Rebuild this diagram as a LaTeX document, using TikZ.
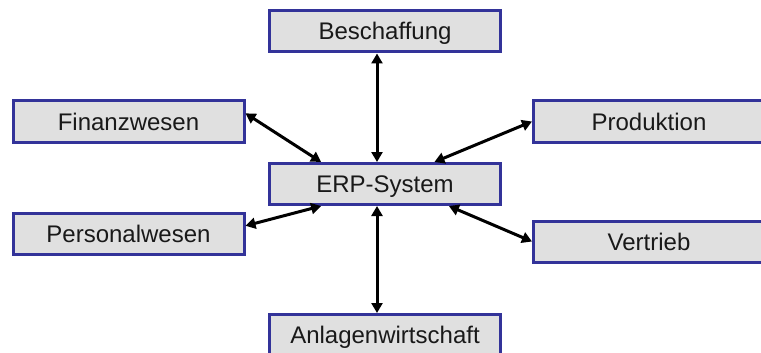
\documentclass[tikz,border=0pt]{standalone}
\usepackage{fontspec}
\setmainfont{Liberation Sans}
\usetikzlibrary{arrows.meta}
\definecolor{boxblue}{RGB}{51,51,153}
\definecolor{boxgray}{RGB}{224,224,224}

\begin{document}
\begin{tikzpicture}[x=1pt,y=-1pt,
  modul/.style={draw=boxblue,fill=boxgray,line width=3pt,minimum width=231pt,
    minimum height=41pt,inner sep=0pt,text height=17pt,text depth=0pt,
    font=\fontsize{24}{28}\selectfont,text=black!90},
  link/.style={{Triangle[length=10pt,width=11pt]}-{Triangle[length=10pt,width=11pt]},line width=3pt}]
  \useasboundingbox (0,0) rectangle (761,353);
  \clip (0,0) rectangle (761,353);
  \node[modul] (besch) at (385,31.5) {Beschaffung};
  \node[modul] (fin) at (128.5,121.5) {Finanzwesen};
  \node[modul] (prod) at (649,121.5) {Produktion};
  \node[modul] (erp) at (385,184) {ERP-System};
  \node[modul] (pers) at (128.5,234) {Personalwesen};
  \node[modul] (vert) at (649,241.5) {Vertrieb};
  \node[modul] (anl) at (385,335) {Anlagenwirtschaft};
  \path[link]
	([xshift=-8pt]besch.south) edge ([xshift=-8pt]erp.north)
	(fin.4) edge (erp.161)
	(prod.180) edge (erp.24)
	(pers.4) edge (erp.199)
	(vert.180) edge (erp.-19)
	([xshift=-8pt]erp.south) edge ([xshift=-8pt]anl.north);
\end{tikzpicture}
\end{document}
